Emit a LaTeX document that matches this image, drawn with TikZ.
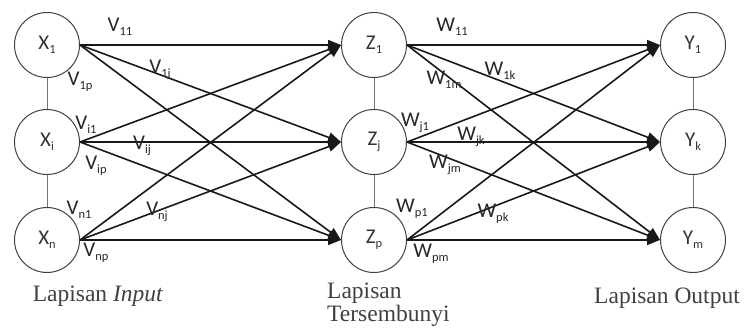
\documentclass[tikz,border=0pt]{standalone}
\usepackage{fontspec}
\setmainfont{Liberation Serif}
\newfontfamily\carl{Carlito}
\usetikzlibrary{arrows.meta}
\newcommand{\lsub}[1]{\raisebox{-0.35ex}{\fontsize{12.5}{12.5}\selectfont #1}}
\begin{document}
\begin{tikzpicture}[x=1pt,y=-1pt,
  neuron/.style={circle,draw=black!75,line width=1pt,minimum size=65pt,inner sep=0pt,
    font=\carl\fontsize{21}{21}\selectfont,text=black!80},
  wlabel/.style={inner sep=0pt,font=\carl\fontsize{21}{21}\selectfont,text=black!85},
  conn/.style={line width=1.6pt,black!90,-{Triangle[length=13pt,width=10pt]}},
  vlink/.style={line width=0.9pt,black!55},
  layer/.style={inner sep=0pt,font=\fontsize{23.5}{23.5}\selectfont,text=black!75,anchor=base}]
\useasboundingbox (0,0) rectangle (744,327);
\node[neuron] (X1) at (47,45) {X\lsub{1}};
\node[neuron] (Xi) at (47,142) {X\lsub{i}};
\node[neuron] (Xn) at (47,240) {X\lsub{n}};
\node[neuron] (Z1) at (374,45) {Z\lsub{1}};
\node[neuron] (Zj) at (374,142) {Z\lsub{j}};
\node[neuron] (Zp) at (374,240) {Z\lsub{p}};
\node[neuron] (Y1) at (693,45) {Y\lsub{1}};
\node[neuron] (Yk) at (693,142) {Y\lsub{k}};
\node[neuron] (Ym) at (693,240) {Y\lsub{m}};
\draw[vlink] (X1) -- (Xi); \draw[vlink] (Xi) -- (Xn);
\draw[vlink] (Z1) -- (Zj); \draw[vlink] (Zj) -- (Zp);
\draw[vlink] (Y1) -- (Yk); \draw[vlink] (Yk) -- (Ym);
\foreach \a in {X1,Xi,Xn}{\foreach \b in {Z1,Zj,Zp}{\draw[conn] (\a.east) -- (\b.west);}}
\foreach \a in {Z1,Zj,Zp}{\foreach \b in {Y1,Yk,Ym}{\draw[conn] (\a.east) -- (\b.west);}}
\node[wlabel] (v11) at (120,27) {V\lsub{11}};
\node[wlabel] (v1j) at (160,70) {V\lsub{1j}};
\node[wlabel] (v1p) at (80,82) {V\lsub{1p}};
\node[wlabel] (vi1) at (86,125) {V\lsub{i1}};
\node[wlabel] (vij) at (142,146) {V\lsub{ij}};
\node[wlabel] (vip) at (96,166) {V\lsub{ip}};
\node[wlabel] (vn1) at (79,210) {V\lsub{n1}};
\node[wlabel] (vnj) at (157,212) {V\lsub{nj}};
\node[wlabel] (vnp) at (96,253) {V\lsub{np}};
\node[wlabel] (w11) at (452,27) {W\lsub{11}};
\node[wlabel] (w1k) at (500,71) {W\lsub{1k}};
\node[wlabel] (w1m) at (444,80) {W\lsub{1m}};
\node[wlabel] (wj1) at (415,123) {W\lsub{j1}};
\node[wlabel] (wjk) at (471,137) {W\lsub{jk}};
\node[wlabel] (wjm) at (445,165) {W\lsub{jm}};
\node[wlabel] (wp1) at (412,209) {W\lsub{p1}};
\node[wlabel] (wpk) at (493,214) {W\lsub{pk}};
\node[wlabel] (wpm) at (431,254) {W\lsub{pm}};
\node[layer] (lin) at (98,301) {Lapisan \textit{Input}};
\node[layer,anchor=base west] (lh1) at (327,298) {Lapisan};
\node[layer,anchor=base west] (lh2) at (327,321) {Tersembunyi};
\node[layer] (lout) at (667,303) {Lapisan Output};
\end{tikzpicture}
\end{document}
